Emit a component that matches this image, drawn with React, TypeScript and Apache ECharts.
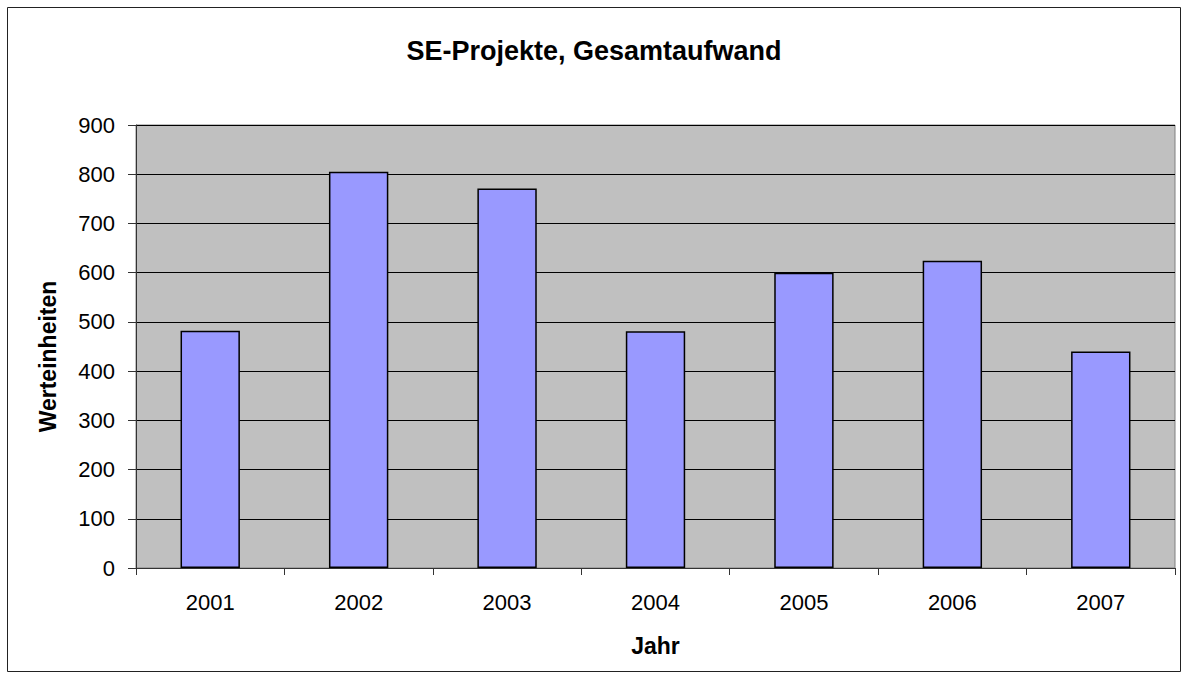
import React, { useEffect, useRef } from "react";
import * as echarts from "echarts";

const years = ["2001", "2002", "2003", "2004", "2005", "2006", "2007"];
const effort = [482, 805, 771, 481, 600, 624, 440];
const yTicks = { min: 0, max: 900, interval: 100 };

const FONT = "'Liberation Sans', Arial, sans-serif";

export default function App() {
  const ref = useRef<HTMLDivElement>(null);
  useEffect(() => {
    document.body.style.margin = "0";
    const chart = echarts.init(ref.current!, null, { renderer: "svg" });
    chart.setOption({
      animation: false,
      backgroundColor: "#ffffff",
      title: {
        text: "SE-Projekte, Gesamtaufwand",
        left: "center",
        top: 32,
        textStyle: { fontFamily: FONT, fontSize: 27, fontWeight: "bold", color: "#000" },
      },
      graphic: [
        {
          type: "rect",
          shape: { x: 7.5, y: 7.5, width: 1173, height: 664 },
          style: { fill: "none", stroke: "#222", lineWidth: 1 },
          silent: true,
        },
      ],
      grid: { left: 136, right: 13, top: 125, bottom: 111, show: true, backgroundColor: "#C0C0C0", borderColor: "#808080", borderWidth: 1 },
      xAxis: {
        type: "category",
        data: years,
        name: "Jahr",
        nameLocation: "middle",
        nameGap: 66,
        nameTextStyle: { fontFamily: FONT, fontSize: 23, fontWeight: "bold", color: "#000" },
        axisLine: { lineStyle: { color: "#333", width: 1 } },
        axisTick: { show: true, length: 7, alignWithLabel: false, lineStyle: { color: "#333" } },
        axisLabel: { fontFamily: FONT, fontSize: 22, color: "#000", margin: 23 },
      },
      yAxis: {
        type: "value",
        min: yTicks.min,
        max: yTicks.max,
        interval: yTicks.interval,
        name: "Werteinheiten",
        nameLocation: "middle",
        nameGap: 77,
        nameTextStyle: { fontFamily: FONT, fontSize: 23, fontWeight: "bold", color: "#000", padding: [0, 20, 0, 0] },
        axisLine: { show: true, lineStyle: { color: "#333", width: 1 } },
        axisTick: { show: true, length: 8, lineStyle: { color: "#333" } },
        axisLabel: { fontFamily: FONT, fontSize: 22, color: "#000", margin: 21 },
        splitLine: { show: true, lineStyle: { color: "#000", width: 1 } },
      },
      series: [
        {
          type: "bar",
          data: effort,
          barCategoryGap: "60%",
          itemStyle: { color: "#9999FF", borderColor: "#000", borderWidth: 1.5 },
        },
      ],
    });
    return () => chart.dispose();
  }, []);
  return <div ref={ref} style={{ width: 1188, height: 679 }} />;
}
